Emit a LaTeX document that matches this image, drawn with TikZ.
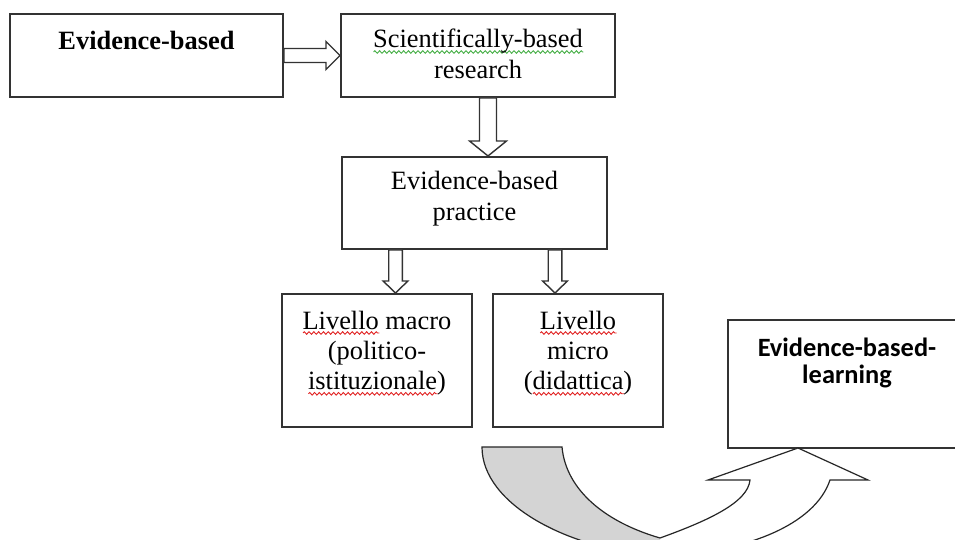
\documentclass[tikz,border=0pt]{standalone}
\usepackage{fontspec}
\setmainfont{Liberation Serif}
\newfontfamily\calib{Carlito}
\usetikzlibrary{calc,decorations.pathmorphing}
\definecolor{sqred}{RGB}{225,35,35}
\definecolor{sqgreen}{RGB}{70,175,70}
\definecolor{bandgray}{RGB}{212,212,212}
\newsavebox\sqbox
\newdimen\sqw
\newcommand\sqline[2]{\sbox\sqbox{#2}\sqw=\wd\sqbox\leavevmode\rlap{\smash{\tikz[x=1pt,y=1pt,baseline=0pt]\draw[#1, line width=0.45pt, decorate, decoration={zigzag, segment length=2.4pt, amplitude=0.65pt}] (0pt,-2pt) -- (\sqw,-2pt);}}\usebox\sqbox}
\newcommand\lns[1]{\begin{tabular}[t]{@{}c@{}}#1\end{tabular}}
\newcommand\harrow[2]{\path[blockarrow] let \p1=(#1), \p2=(#2) in
  (\x1,{\y1+3.5pt}) -- ({\x2-7pt},{\y1+3.5pt}) -- ({\x2-7pt},{\y1+7pt}) -- (\x2,\y1)
  -- ({\x2-7pt},{\y1-7pt}) -- ({\x2-7pt},{\y1-3.5pt}) -- (\x1,{\y1-3.5pt}) -- cycle;}
% #1 start, #2 target, #3 shaft half, #4 head half, #5 head length
\newcommand\varrow[5]{\path[blockarrow] let \p1=(#1), \p2=(#2) in
  ({\x1-#3},\y1) -- ({\x1-#3},{\y2+#5}) -- ({\x1-#4},{\y2+#5}) -- (\x1,\y2)
  -- ({\x1+#4},{\y2+#5}) -- ({\x1+#3},{\y2+#5}) -- ({\x1+#3},\y1) -- cycle;}
\tikzset{
  box/.style={draw=black!80, line width=1pt, fill=white, inner sep=0pt},
  blockarrow/.style={draw=black!80, line width=0.7pt, fill=white},
  txt/.style={inner sep=0pt, anchor=base, font=\fontsize{13.2}{15.2}\selectfont},
  ebltxt/.style={inner sep=0pt, anchor=base, font=\calib\bfseries\fontsize{13.2}{13}\selectfont},
  band/.style={draw=black!85, line width=0.6pt}
}
\begin{document}
\begin{tikzpicture}[x=0.5pt,y=-0.5pt]
\useasboundingbox (0,0) rectangle (955,540);
\clip (0,0) rectangle (955,540);
\fill[white] (0,0) rectangle (955,540);

% boxes
\node[box, minimum width=136.5pt, minimum height=41.5pt] (b1) at (146.5,55.5) {};
\node[box, minimum width=137pt, minimum height=41.5pt] (b2) at (478,55.5) {};
\node[box, minimum width=132.5pt, minimum height=46pt] (b3) at (474.5,203) {};
\node[box, minimum width=95pt, minimum height=66.5pt] (b4) at (377,360.5) {};
\node[box, minimum width=85pt, minimum height=66.5pt] (b5) at (578,360.5) {};
\node[box, minimum width=121pt, minimum height=64pt] (b6) at (849,384) {};

% texts
\node[txt] (t1) at (146.5,50) {\bfseries Evidence-based};
\node[txt] (t2) at (478,48) {\lns{\sqline{sqgreen}{Scientifically-based}\\research}};
\node[txt] (t3) at (474.5,190) {\lns{Evidence-based\\practice}};
\node[txt] (t4) at (377,329) {\lns{\sqline{sqred}{Livello} macro\\(politico-\\\sqline{sqred}{istituzionale})}};
\node[txt] (t5) at (578,329) {\lns{\sqline{sqred}{Livello}\\micro\\(\sqline{sqred}{didattica})}};
\node[ebltxt] (t6) at (847,357) {\lns{Evidence-based-\\learning}};

% block arrows
\harrow{b1.east}{b2.west}
\varrow{$(b2.south)+(10,0)$}{b3.north}{4.25pt}{9.25pt}{7.5pt}
\varrow{$(b3.south)+(-79,0)$}{b4.north}{3.4pt}{6.2pt}{6pt}
\varrow{$(b3.south)+(80.5,0)$}{b5.north}{3.4pt}{6.2pt}{6pt}

% curved arrow from the levels to evidence-based-learning
\coordinate (gOutTop) at (482,447);
\coordinate (gInTop) at (562,447);
\coordinate (meet) at (660,538);
\coordinate (low) at (660,556);
\coordinate (hInner) at (750,480);
\coordinate (hLeft) at (708,480);
\coordinate (tip) at (798,448);
\coordinate (hRight) at (868,480);
\coordinate (hOuter) at (830,480);
\fill[white] (gOutTop) .. controls (482,505) and (570,550) .. (low)
  .. controls (745,553) and (815,525) .. (hOuter) -- (hRight) -- (tip) -- (hLeft) -- (hInner)
  .. controls (748,502) and (710,520) .. (meet)
  .. controls (605,522) and (566,490) .. (gInTop) -- cycle;
\fill[bandgray] (gOutTop) .. controls (482,505) and (570,550) .. (low) -- (meet)
  .. controls (605,522) and (566,490) .. (gInTop) -- cycle;
\draw[band, line join=miter] (gOutTop) .. controls (482,505) and (570,550) .. (low)
  .. controls (745,553) and (815,525) .. (hOuter) -- (hRight) -- (tip) -- (hLeft) -- (hInner)
  .. controls (748,502) and (710,520) .. (meet)
  .. controls (605,522) and (566,490) .. (gInTop) -- cycle;
\end{tikzpicture}
\end{document}
